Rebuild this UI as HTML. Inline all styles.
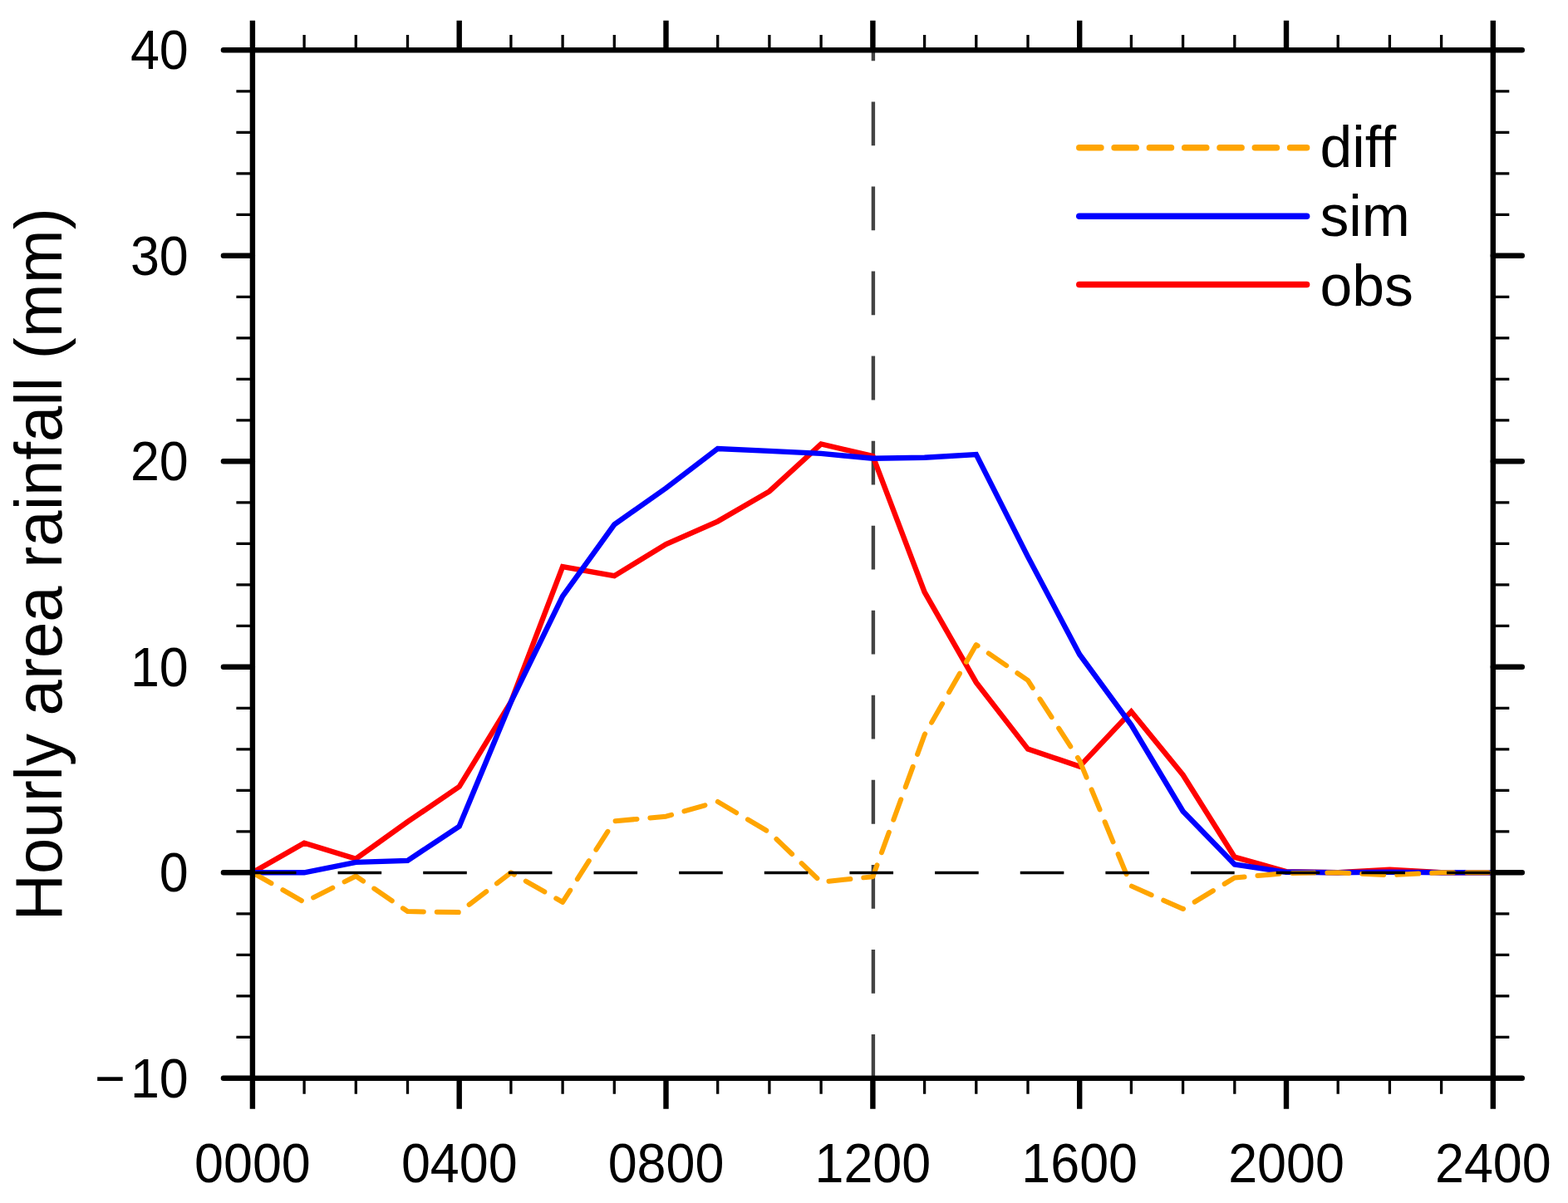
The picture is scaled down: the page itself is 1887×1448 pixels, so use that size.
<!DOCTYPE html>
<html lang="en">
<head>
<meta charset="utf-8">
<title>Hourly area rainfall</title>
<style>
html,body{margin:0;padding:0;background:#fff;}
body{width:1887px;height:1448px;overflow:hidden;}
svg{display:block;}
</style>
</head>
<body>
<svg width="1887" height="1448" viewBox="0 0 1887 1448">
<rect width="1887" height="1448" fill="#fff"/>
<line x1="1050.9" y1="1297.8" x2="1050.9" y2="60.3" fill="none" stroke="#444" stroke-width="4.4" stroke-dasharray="52.8 49.25"/>
<g fill="none" stroke-linejoin="miter" stroke-width="6.4">
<polyline points="303.9,1050.3 366.1,1014.7 428.3,1033.7 490.5,989.2 552.7,946.8 614.9,844.9 677.1,682.0 739.3,693.2 801.5,655.0 863.7,627.6 925.9,591.4 988.1,534.5 1050.4,548.9 1112.6,712.7 1174.8,821.4 1237.0,901.6 1299.2,922.6 1361.4,856.5 1423.6,932.7 1485.8,1031.7 1548.0,1049.1 1610.2,1050.3 1672.4,1046.6 1734.6,1050.3 1796.8,1050.3" stroke="#ff0000"/>
<polyline points="303.9,1050.3 366.1,1050.3 428.3,1037.9 490.5,1035.9 552.7,994.6 614.9,844.9 677.1,717.7 739.3,631.3 801.5,587.5 863.7,540.0 925.9,542.9 988.1,545.9 1050.4,551.8 1112.6,550.8 1174.8,547.1 1237.0,670.1 1299.2,787.7 1361.4,872.6 1423.6,976.5 1485.8,1040.4 1548.0,1049.8 1610.2,1050.3 1672.4,1049.6 1734.6,1050.3 1796.8,1050.3" stroke="#0000ff"/>
<polyline points="303.9,1050.3 366.1,1085.9 428.3,1054.5 490.5,1097.1 552.7,1098.1 614.9,1050.3 677.1,1085.9 739.3,988.4 801.5,982.7 863.7,964.9 925.9,1001.8 988.1,1061.7 1050.4,1055.2 1112.6,884.5 1174.8,776.1 1237.0,818.9 1299.2,915.4 1361.4,1066.4 1423.6,1094.1 1485.8,1056.5 1548.0,1051.0 1610.2,1050.3 1672.4,1053.3 1734.6,1050.3 1796.8,1050.3" stroke="#ffa500" stroke-width="6" stroke-dasharray="26 16" stroke-linecap="round" stroke-linejoin="round"/>
</g>
<line x1="303.9" y1="1050.5" x2="1796.8" y2="1050.5" fill="none" stroke="#000" stroke-width="3.4" stroke-dasharray="52.6 50.05"/>
<g fill="none" stroke="#000" stroke-linecap="butt">
<rect x="303.9" y="60.3" width="1492.9" height="1237.5" stroke-width="6.4"/>
<path d="M303.9 60.3V24.8M303.9 1297.8V1334.8M552.7 60.3V24.8M552.7 1297.8V1334.8M801.5 60.3V24.8M801.5 1297.8V1334.8M1050.4 60.3V24.8M1050.4 1297.8V1334.8M1299.2 60.3V24.8M1299.2 1297.8V1334.8M1548.0 60.3V24.8M1548.0 1297.8V1334.8M1796.8 60.3V24.8M1796.8 1297.8V1334.8" stroke-width="6.4"/>
<path d="M303.9 1297.8H268.9M1796.8 1297.8H1831.8M303.9 1050.3H268.9M1796.8 1050.3H1831.8M303.9 802.8H268.9M1796.8 802.8H1831.8M303.9 555.3H268.9M1796.8 555.3H1831.8M303.9 307.8H268.9M1796.8 307.8H1831.8M303.9 60.3H268.9M1796.8 60.3H1831.8" stroke-width="6.4" stroke-linecap="round"/>
<path d="M366.1 60.3V42.0M366.1 1297.8V1316.8M428.3 60.3V42.0M428.3 1297.8V1316.8M490.5 60.3V42.0M490.5 1297.8V1316.8M614.9 60.3V42.0M614.9 1297.8V1316.8M677.1 60.3V42.0M677.1 1297.8V1316.8M739.3 60.3V42.0M739.3 1297.8V1316.8M863.7 60.3V42.0M863.7 1297.8V1316.8M925.9 60.3V42.0M925.9 1297.8V1316.8M988.1 60.3V42.0M988.1 1297.8V1316.8M1112.6 60.3V42.0M1112.6 1297.8V1316.8M1174.8 60.3V42.0M1174.8 1297.8V1316.8M1237.0 60.3V42.0M1237.0 1297.8V1316.8M1361.4 60.3V42.0M1361.4 1297.8V1316.8M1423.6 60.3V42.0M1423.6 1297.8V1316.8M1485.8 60.3V42.0M1485.8 1297.8V1316.8M1610.2 60.3V42.0M1610.2 1297.8V1316.8M1672.4 60.3V42.0M1672.4 1297.8V1316.8M1734.6 60.3V42.0M1734.6 1297.8V1316.8M303.9 1248.3H284.4M1796.8 1248.3H1816.3M303.9 1198.8H284.4M1796.8 1198.8H1816.3M303.9 1149.3H284.4M1796.8 1149.3H1816.3M303.9 1099.8H284.4M1796.8 1099.8H1816.3M303.9 1000.8H284.4M1796.8 1000.8H1816.3M303.9 951.3H284.4M1796.8 951.3H1816.3M303.9 901.8H284.4M1796.8 901.8H1816.3M303.9 852.3H284.4M1796.8 852.3H1816.3M303.9 753.3H284.4M1796.8 753.3H1816.3M303.9 703.8H284.4M1796.8 703.8H1816.3M303.9 654.3H284.4M1796.8 654.3H1816.3M303.9 604.8H284.4M1796.8 604.8H1816.3M303.9 505.8H284.4M1796.8 505.8H1816.3M303.9 456.3H284.4M1796.8 456.3H1816.3M303.9 406.8H284.4M1796.8 406.8H1816.3M303.9 357.3H284.4M1796.8 357.3H1816.3M303.9 258.3H284.4M1796.8 258.3H1816.3M303.9 208.8H284.4M1796.8 208.8H1816.3M303.9 159.3H284.4M1796.8 159.3H1816.3M303.9 109.8H284.4M1796.8 109.8H1816.3" stroke-width="3.3"/>
</g>
<g font-family="'Liberation Sans', Arial, Helvetica, sans-serif" fill="#000">
<text transform="translate(226.80 1320.90) scale(1 1.0600)" font-size="62.8" text-anchor="end" dx="0 6">−10</text>
<text transform="translate(226.80 1073.40) scale(1 1.0600)" font-size="62.8" text-anchor="end">0</text>
<text transform="translate(226.80 825.90) scale(1 1.0600)" font-size="62.8" text-anchor="end">10</text>
<text transform="translate(226.80 578.40) scale(1 1.0600)" font-size="62.8" text-anchor="end">20</text>
<text transform="translate(226.80 330.90) scale(1 1.0600)" font-size="62.8" text-anchor="end">30</text>
<text transform="translate(226.80 83.40) scale(1 1.0600)" font-size="62.8" text-anchor="end">40</text>
<text transform="translate(303.90 1423.20) scale(1 1.0600)" font-size="62.8" text-anchor="middle">0000</text>
<text transform="translate(552.72 1423.20) scale(1 1.0600)" font-size="62.8" text-anchor="middle">0400</text>
<text transform="translate(801.53 1423.20) scale(1 1.0600)" font-size="62.8" text-anchor="middle">0800</text>
<text transform="translate(1050.35 1423.20) scale(1 1.0600)" font-size="62.8" text-anchor="middle">1200</text>
<text transform="translate(1299.17 1423.20) scale(1 1.0600)" font-size="62.8" text-anchor="middle">1600</text>
<text transform="translate(1547.98 1423.20) scale(1 1.0600)" font-size="62.8" text-anchor="middle">2000</text>
<text transform="translate(1796.80 1423.20) scale(1 1.0600)" font-size="62.8" text-anchor="middle">2400</text>
<text transform="translate(1588.50 201.40)" font-size="69.7">diff</text>
<text transform="translate(1588.50 283.90)" font-size="69.7">sim</text>
<text transform="translate(1588.50 367.60)" font-size="69.7">obs</text>
<text transform="translate(74.20 679.40) rotate(-90) scale(1 1.0250)" font-size="78" text-anchor="middle">Hourly area rainfall (mm)</text>
</g>
<g fill="none" stroke-width="7.5" stroke-linecap="round">
<line x1="1298.8" y1="177.7" x2="1572.6" y2="177.7" stroke="#ffa500" stroke-dasharray="26.1 16.2"/>
<line x1="1298.8" y1="260.2" x2="1572.6" y2="260.2" stroke="#0000ff"/>
<line x1="1298.8" y1="342.5" x2="1572.6" y2="342.5" stroke="#ff0000"/>
</g>
</svg>
</body>
</html>
